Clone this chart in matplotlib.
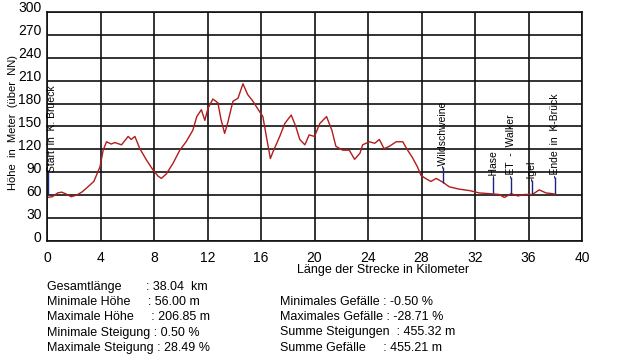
import numpy as np
import matplotlib.pyplot as plt
import matplotlib.transforms as mtransforms

plt.rcParams['font.family'] = ['Liberation Sans Narrow', 'Liberation Sans', 'DejaVu Sans']

# profile (km, height in m)
km = [0.0, 0.4, 0.8, 1.1, 1.5, 1.8, 2.2, 2.6, 3.0, 3.5, 3.96, 4.2, 4.45, 4.8, 5.07, 5.57,
      6.07, 6.3, 6.57, 6.94, 7.44, 7.93, 8.3, 8.55, 8.93, 9.43, 9.93, 10.4, 10.9, 11.2,
      11.54, 11.8, 12.04, 12.4, 12.78, 13.0, 13.28, 13.5, 13.9, 14.28, 14.65, 15.0, 15.4,
      15.8, 16.14, 16.4, 16.7, 16.9, 17.4, 17.78, 18.26, 18.6, 18.9, 19.28, 19.6, 20.0,
      20.4, 20.9, 21.3, 21.6, 22.1, 22.6, 23.0, 23.4, 23.6, 24.1, 24.5, 24.85, 25.2, 25.6,
      26.1, 26.6, 26.96, 27.3, 27.7, 27.96, 28.3, 28.7, 29.1, 29.6, 30.07, 30.8, 31.6,
      32.3, 33.1, 33.8, 34.2, 34.7, 35.2, 35.7, 36.3, 36.8, 37.3, 37.8, 38.04]
hoehe = [57, 58, 63, 64, 61, 58, 60, 64, 70, 78, 97, 119, 130, 127, 129, 126,
         137, 133, 137, 121, 106, 93, 85, 82, 88, 102, 119, 130, 145, 163,
         172, 158, 174, 186, 181, 160, 141, 154, 183, 187, 206, 192, 183,
         172, 163, 137, 108, 117, 137, 154, 165, 150, 133, 126, 139, 137,
         154, 163, 145, 124, 119, 119, 107, 115, 126, 130, 128, 133, 121, 124,
         130, 130, 119, 110, 97, 86, 82, 78, 82, 77, 71, 68, 66,
         63, 62, 61, 57, 62, 59, 61, 61, 67, 63, 62, 61]

# waypoint markers: position, line bottom/top, label
marker_km = [0.05, 29.6, 33.36, 34.7, 36.25, 37.96]
marker_lo = [62, 76, 63, 62, 61, 61]
marker_hi = [93, 97, 84, 84, 80, 84]
marker_txt = ["Start  in  K. Brueck", "-Wildschweine", "-Hase", "-ET  -  Walker",
              "-Igel", "-Ende  in  K-Brück"]

x_ticks = list(range(0, 41, 4))
y_ticks = list(range(0, 301, 30))

stats_left = ["Gesamtlänge       : 38.04  km",
              "Minimale Höhe     : 56.00 m",
              "Maximale Höhe     : 206.85 m",
              "Minimale Steigung : 0.50 %",
              "Maximale Steigung : 28.49 %"]
stats_right = ["Minimales Gefälle : -0.50 %",
               "Maximales Gefälle : -28.71 %",
               "Summe Steigungen  : 455.32 m",
               "Summe Gefälle     : 455.21 m"]

fig = plt.figure(figsize=(6.4, 3.59), dpi=100)
ax = fig.add_axes([47 / 640, 1 - 241 / 359, 535 / 640, 229 / 359])

ax.set_xlim(0, 40)
ax.set_ylim(0, 300)
ax.set_xticks(x_ticks)
ax.set_yticks(y_ticks)
ax.grid(True, color='#111111', linewidth=1.2)
for s in ax.spines.values():
    s.set_linewidth(1.2)
    s.set_color('#111111')
ax.tick_params(length=0, labelsize=10, pad=4)
ax.tick_params(axis='x', pad=7)

# y labels sit a bit above their grid lines
off = mtransforms.ScaledTranslation(0, 5 / 100, fig.dpi_scale_trans)
for lab in ax.get_yticklabels():
    lab.set_transform(lab.get_transform() + off)

ax.plot(km, hoehe, color='#b01c1c', linewidth=1.0)

for mk, lo, hi, txt in zip(marker_km, marker_lo, marker_hi, marker_txt):
    ax.vlines(mk, lo, hi, color='#1a237e', linewidth=1.0)
    ax.text(mk + 0.35 if mk < 1 else mk, hi - 2, txt, rotation=90, fontsize=7.5,
            ha='center', va='bottom')

fig.text(13 / 640, 1 - 122 / 359, "Höhe  in  Meter  (über  NN)", rotation=90,
         fontsize=8, ha='center', va='center')
fig.text(383 / 640, 1 - 270 / 359, "Länge der Strecke in Kilometer",
         fontsize=9, ha='center', va='center')

for i, s in enumerate(stats_left):
    fig.text(47 / 640, 1 - (287 + 15.2 * i) / 359, s, fontsize=9, va='center')
for i, s in enumerate(stats_right):
    fig.text(280 / 640, 1 - (302 + 15.2 * i) / 359, s, fontsize=9, va='center')

fig.savefig("out.png", dpi=100)
